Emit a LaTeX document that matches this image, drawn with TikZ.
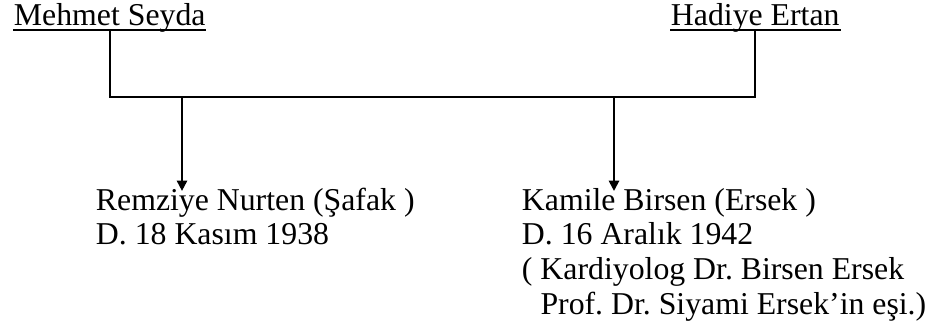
\documentclass[tikz,border=0pt]{standalone}
\usepackage{fontspec}
\setmainfont{Liberation Serif}
\usetikzlibrary{positioning, arrows.meta}

\begin{document}
\begin{tikzpicture}[x=0.387pt, y=-0.387pt, line width=0.75pt,
	person/.style={inner sep=0pt, anchor=base west, font=\fontsize{12.3}{13.4}\selectfont\frenchspacing},
	kid/.style={person, align=left},
	tip/.style={-{Triangle[width=4pt, length=4pt]}, shorten >=-1.5pt}]
	\useasboundingbox (0,0) rectangle (938,332);

	\node[person] (mehmet) at (13,26) {Mehmet Seyda};
	\node[person] (hadiye) at (670,26) {Hadiye Ertan};
	\node[kid] (remziye) at (95,245) {Remziye Nurten (Şafak )\\D. 18 Kasım 1938};
	\node[kid] (kamile) at (521,314) {Kamile Birsen (Ersek )\\D. 16 Aralık 1942\\( Kardiyolog Dr. Birsen Ersek\\\phantom{( }Prof. Dr. Siyami Ersek’in eşi.)};

	\coordinate (bar) at (0,97);
	\coordinate (c1) at (182,97);
	\coordinate (c2) at (614,97);

	\draw[line width=0.6pt] ([yshift=-1.5pt]mehmet.base west) -- ([yshift=-1.5pt]mehmet.base east);
	\draw[line width=0.6pt] ([yshift=-1.5pt]hadiye.base west) -- ([yshift=-1.5pt]hadiye.base east);

	\draw ([yshift=-1.5pt]mehmet.base) -- (mehmet.base |- bar) -- (hadiye.base |- bar) -- ([yshift=-1.5pt]hadiye.base);
	\draw[tip] (c1) -- (c1 |- remziye.north);
	\draw[tip] (c2) -- (c2 |- kamile.north);
\end{tikzpicture}
\end{document}
